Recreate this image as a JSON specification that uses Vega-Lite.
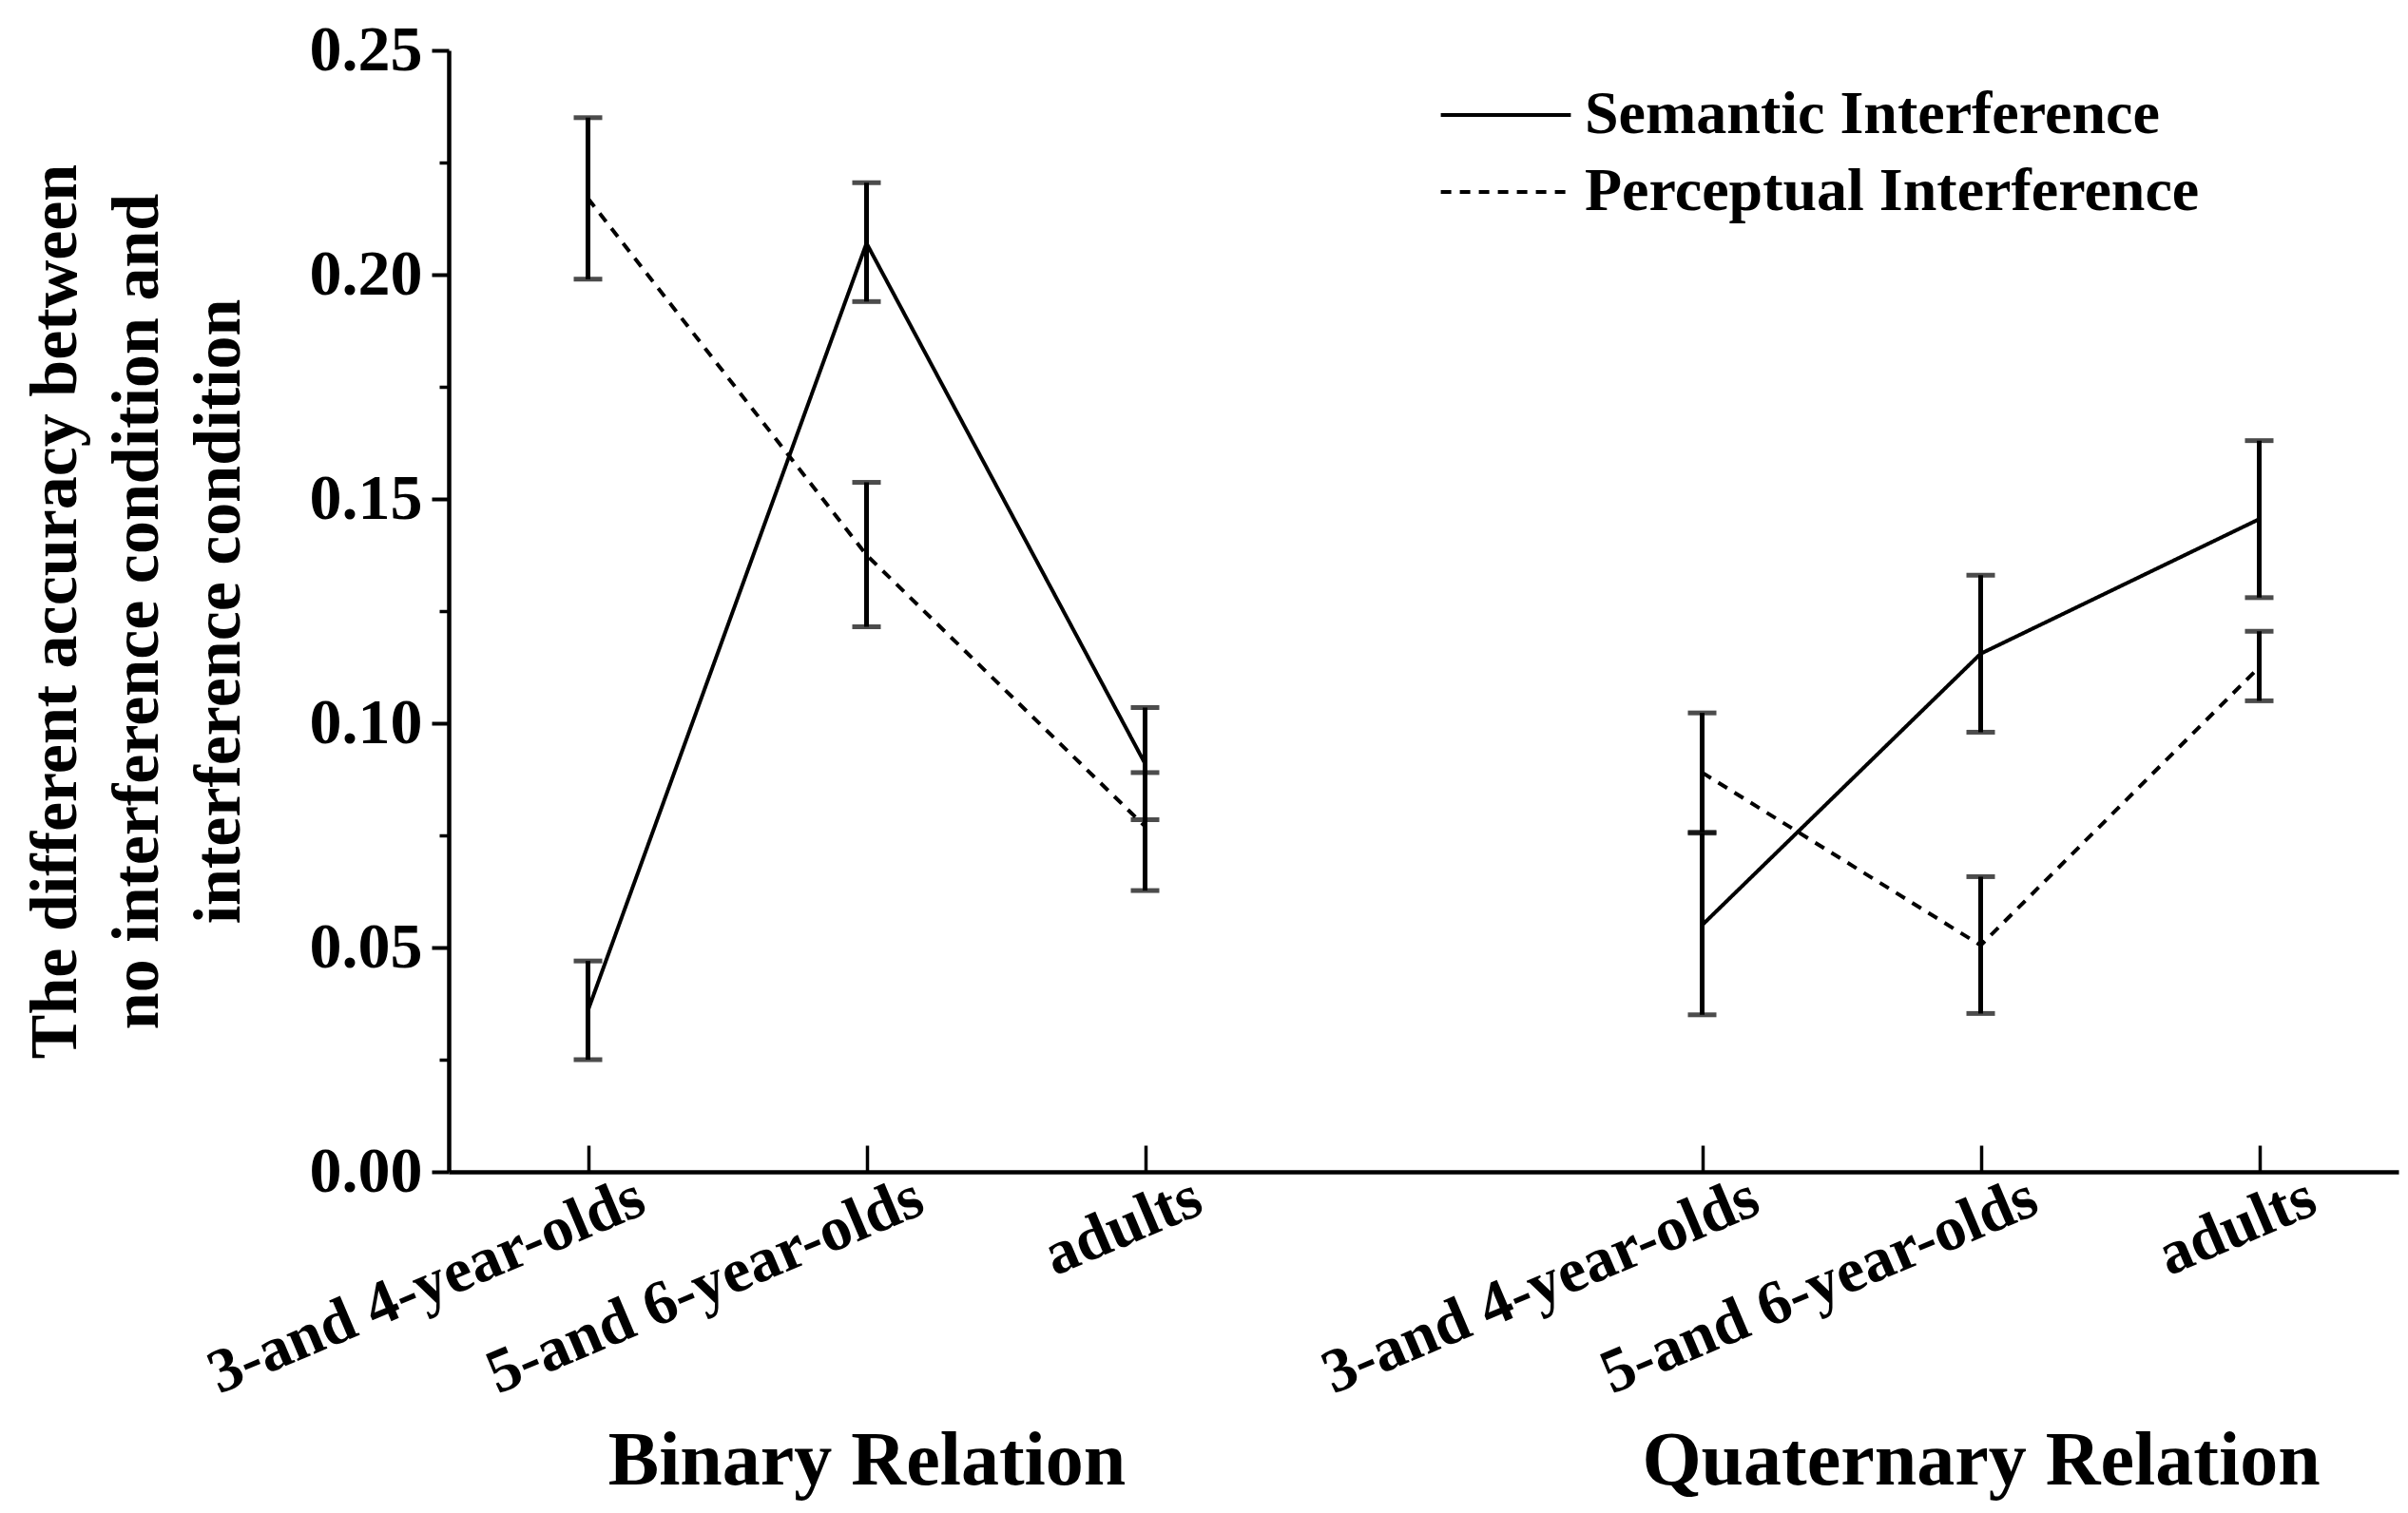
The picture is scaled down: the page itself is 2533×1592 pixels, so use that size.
{
  "$schema": "https://vega.github.io/schema/vega-lite/v6.json",
  "width": 2051,
  "height": 1180,
  "autosize": {"type": "none"},
  "padding": {"left": 472, "top": 53, "right": 10, "bottom": 359},
  "background": "white",
  "config": {
    "font": "Liberation Serif",
    "view": {"stroke": null},
    "axis": {
      "grid": false,
      "domainColor": "black",
      "tickColor": "black",
      "labelColor": "black",
      "titleColor": "black",
      "labelFont": "Liberation Serif",
      "titleFont": "Liberation Serif",
      "labelFontWeight": "bold",
      "titleFontWeight": "bold",
      "labelOverlap": false,
      "labelFlush": false,
      "labelBound": false,
      "labelLimit": 0,
      "titleLimit": 0
    },
    "legend": {"labelLimit": 0}
  },
  "data": {
    "values": [
      {"relation": "Binary", "key": "Binary|3-and 4-year-olds", "condition": "Semantic Interference", "mean": 0.036, "lo": 0.025, "hi": 0.047},
      {"relation": "Binary", "key": "Binary|5-and 6-year-olds", "condition": "Semantic Interference", "mean": 0.207, "lo": 0.194, "hi": 0.2205},
      {"relation": "Binary", "key": "Binary|adults", "condition": "Semantic Interference", "mean": 0.091, "lo": 0.0785, "hi": 0.1035},
      {"relation": "Binary", "key": "Binary|3-and 4-year-olds", "condition": "Perceptual Interference", "mean": 0.217, "lo": 0.199, "hi": 0.235},
      {"relation": "Binary", "key": "Binary|5-and 6-year-olds", "condition": "Perceptual Interference", "mean": 0.1375, "lo": 0.1215, "hi": 0.1537},
      {"relation": "Binary", "key": "Binary|adults", "condition": "Perceptual Interference", "mean": 0.077, "lo": 0.0627, "hi": 0.089},
      {"relation": "Quaternary", "key": "Quaternary|3-and 4-year-olds", "condition": "Semantic Interference", "mean": 0.055, "lo": 0.035, "hi": 0.0755},
      {"relation": "Quaternary", "key": "Quaternary|5-and 6-year-olds", "condition": "Semantic Interference", "mean": 0.1155, "lo": 0.098, "hi": 0.133},
      {"relation": "Quaternary", "key": "Quaternary|adults", "condition": "Semantic Interference", "mean": 0.1455, "lo": 0.128, "hi": 0.163},
      {"relation": "Quaternary", "key": "Quaternary|3-and 4-year-olds", "condition": "Perceptual Interference", "mean": 0.089, "lo": 0.0757, "hi": 0.1023},
      {"relation": "Quaternary", "key": "Quaternary|5-and 6-year-olds", "condition": "Perceptual Interference", "mean": 0.0505, "lo": 0.0353, "hi": 0.0658},
      {"relation": "Quaternary", "key": "Quaternary|adults", "condition": "Perceptual Interference", "mean": 0.1125, "lo": 0.105, "hi": 0.1205}
    ]
  },
  "resolve": {"axis": {"x": "independent", "y": "independent"}},
  "layer": [
    {
      "mark": {"type": "line", "color": "black", "strokeWidth": 4},
      "encoding": {
        "x": {
          "field": "key", "type": "nominal",
          "scale": {"type": "point", "padding": 0.5, "domain": ["Binary|3-and 4-year-olds", "Binary|5-and 6-year-olds", "Binary|adults", "gap", "Quaternary|3-and 4-year-olds", "Quaternary|5-and 6-year-olds", "Quaternary|adults"]},
          "axis": {
            "orient": "bottom",
            "title": null,
            "values": ["Binary|3-and 4-year-olds", "Binary|5-and 6-year-olds", "Binary|adults", "Quaternary|3-and 4-year-olds", "Quaternary|5-and 6-year-olds", "Quaternary|adults"],
            "labelExpr": "split(datum.label, '|')[1]",
            "labelAngle": -23,
            "labelAlign": "right",
            "labelBaseline": "top",
            "labelFontSize": 66,
            "labelOffset": 43,
            "labelPadding": 22,
            "tickSize": -28,
            "tickWidth": 3.5,
            "domainWidth": 4.5
          }
        },
        "y": {
          "field": "mean", "type": "quantitative",
          "scale": {"domain": [0, 0.25], "nice": false, "zero": true},
          "axis": {
            "orient": "left",
            "values": [0, 0.05, 0.1, 0.15, 0.2, 0.25],
            "format": ".2f",
            "tickSize": 18,
            "tickWidth": 4,
            "domainWidth": 4.5,
            "labelFontSize": 68,
            "labelPadding": 10,
            "title": ["The different accuracy between", "no interference condition and", "interference condition"],
            "titleFontSize": 70,
            "titleLineHeight": 86,
            "titlePadding": 59
          }
        },
        "strokeDash": {
          "field": "condition", "type": "nominal",
          "scale": {"domain": ["Semantic Interference", "Perceptual Interference"], "range": [[1, 0], [11, 9]]},
          "legend": {
            "orient": "none",
            "legendX": 1080,
            "legendY": 36,
            "title": null,
            "padding": 0,
            "symbolType": "M-2.4,0H2.4",
            "symbolSize": 3249,
            "symbolStrokeWidth": 4,
            "symbolStrokeColor": "black",
            "labelFont": "Liberation Serif",
            "labelFontWeight": "bold",
            "labelFontSize": 64,
            "labelColor": "black",
            "labelOffset": 51,
            "rowPadding": 17
          }
        },
        "detail": {"field": "relation", "type": "nominal"}
      }
    },
    {
      "mark": {"type": "rule", "color": "black", "strokeWidth": 5},
      "encoding": {
        "x": {
          "field": "key", "type": "nominal",
          "axis": {
            "orient": "bottom",
            "title": null,
            "values": ["Binary|5-and 6-year-olds", "Quaternary|5-and 6-year-olds"],
            "labelExpr": "split(datum.label, '|')[0] + ' Relation'",
            "labelAngle": 0,
            "labelAlign": "center",
            "labelBaseline": "top",
            "labelFontSize": 80,
            "labelPadding": 265,
            "ticks": false,
            "domain": false
          }
        },
        "y": {
          "field": "lo", "type": "quantitative",
          "axis": {
            "orient": "left",
            "values": [0.025, 0.075, 0.125, 0.175, 0.225],
            "tickSize": 10,
            "tickWidth": 3.5,
            "labels": false,
            "domain": false,
            "title": null
          }
        },
        "y2": {"field": "hi"}
      }
    },
    {
      "mark": {"type": "tick", "color": "black", "size": 30, "thickness": 5, "orient": "horizontal"},
      "encoding": {
        "x": {"field": "key", "type": "nominal", "axis": null},
        "y": {"field": "lo", "type": "quantitative", "axis": null}
      }
    },
    {
      "mark": {"type": "tick", "color": "black", "size": 30, "thickness": 5, "orient": "horizontal"},
      "encoding": {
        "x": {"field": "key", "type": "nominal", "axis": null},
        "y": {"field": "hi", "type": "quantitative", "axis": null}
      }
    }
  ]
}
